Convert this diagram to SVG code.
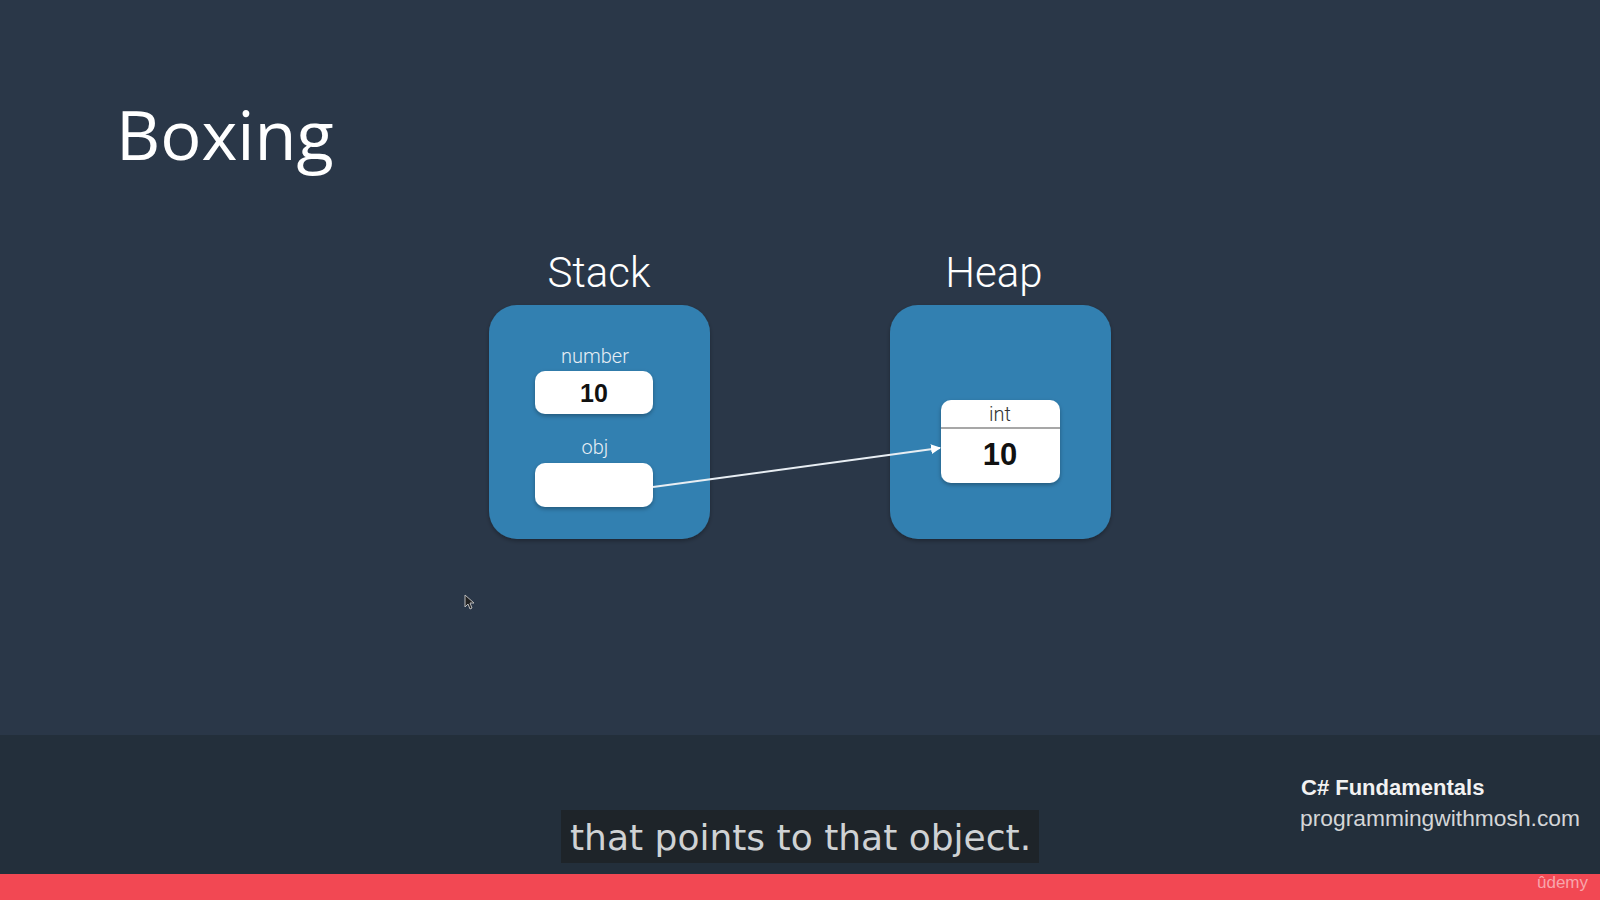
<svg xmlns="http://www.w3.org/2000/svg" width="1600" height="900" viewBox="0 0 1600 900">
<defs>
<style>
.title{font-family:"Open Sans","Liberation Sans",sans-serif;font-size:68.5px;fill:#ffffff;}
.hdr{font-family:Roboto,"Liberation Sans",sans-serif;font-weight:300;font-size:42px;fill:#ffffff;text-anchor:middle;}
.lbl{font-family:Roboto,"Liberation Sans",sans-serif;font-weight:300;font-size:20px;fill:#e6eef5;text-anchor:middle;}
.val{font-family:"Liberation Sans",Arial,sans-serif;font-weight:bold;fill:#111111;text-anchor:middle;}
.panel{fill:#3380b1;}
.cell{fill:#ffffff;}
.cap{font-family:"DejaVu Sans",sans-serif;font-size:36px;fill:#cfd2d4;}
</style>
<filter id="sh" x="-10%" y="-10%" width="120%" height="130%">
<feDropShadow dx="0" dy="2" stdDeviation="2" flood-color="#000" flood-opacity="0.3"/>
</filter>
<marker id="ah" viewBox="0 0 10 10" refX="9" refY="5" markerWidth="5" markerHeight="5" orient="auto">
<path d="M0,0 L10,5 L0,10 z" fill="#ffffff"/>
</marker>
</defs>
<rect width="1600" height="900" fill="#2a3748"/>
<rect y="735" width="1600" height="140" fill="#232f3b"/>
<rect y="874" width="1600" height="26" fill="#f24853"/>

<text class="title" x="116" y="160">Boxing</text>

<g id="stack">
<text class="hdr" x="599" y="287">Stack</text>
<rect class="panel" x="489" y="305" width="221" height="234" rx="28" filter="url(#sh)"/>
<text class="lbl" x="595" y="363">number</text>
<rect class="cell" x="535" y="371" width="118" height="43" rx="10" filter="url(#sh)"/>
<text class="val" x="594" y="402" font-size="25">10</text>
<text class="lbl" x="595" y="454">obj</text>
<rect class="cell" x="535" y="463" width="118" height="44" rx="10" filter="url(#sh)"/>
</g>

<g id="heap">
<text class="hdr" x="994" y="287">Heap</text>
<rect class="panel" x="890" y="305" width="221" height="234" rx="28" filter="url(#sh)"/>
<rect class="cell" x="941" y="400" width="119" height="83" rx="10" filter="url(#sh)"/>
<line x1="941" y1="428" x2="1060" y2="428" stroke="#8a8a8a" stroke-width="1.5"/>
<text class="lbl" x="1000" y="421" style="fill:#333333">int</text>
<text class="val" x="1000" y="465" font-size="31">10</text>
</g>

<g id="connectors">
<line x1="653" y1="487" x2="940" y2="448" stroke="#e8eef3" stroke-width="2" marker-end="url(#ah)"/>
</g>

<path d="M465,595 L465,607 L468,604 L470,609 L472,608 L470,603 L474,603 Z" fill="#222" stroke="#bbb" stroke-width="1"/>

<rect x="561" y="810" width="478" height="53" fill="#1e2429"/>
<text class="cap" x="570" y="850">that points to that object.</text>

<text x="1301" y="795" font-family="Liberation Sans, Arial, sans-serif" font-weight="bold" font-size="22" fill="#f2f2f2">C# Fundamentals</text>
<text x="1300" y="826" font-family="Liberation Sans, Arial, sans-serif" font-size="22.8" fill="#d4d6d8">programmingwithmosh.com</text>
<text x="1537" y="888" font-family="Liberation Sans, Arial, sans-serif" font-size="17" fill="#f8a5ab">ûdemy</text>
</svg>
